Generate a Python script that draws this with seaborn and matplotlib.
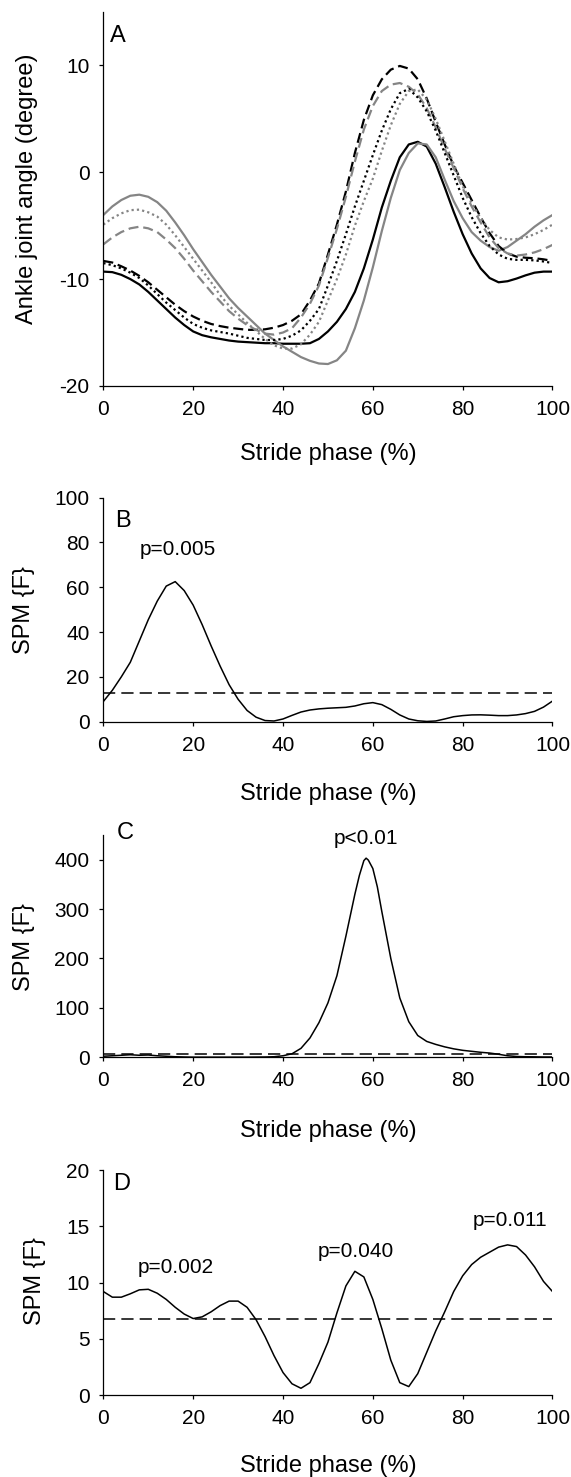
import matplotlib
matplotlib.use("Agg")
import matplotlib.pyplot as plt
import seaborn as sns
import pandas as pd

sns.set_style("ticks")
plt.rcParams['font.family'] = ['Liberation Sans', 'DejaVu Sans']
plt.rcParams['axes.unicode_minus'] = False
plt.rcParams['text.color'] = 'black'
plt.rcParams['axes.labelcolor'] = 'black'
plt.rcParams['xtick.color'] = 'black'
plt.rcParams['ytick.color'] = 'black'

# ---------------- data ----------------
phase = list(range(0, 101, 2))

# Panel A: ankle joint angle (degree)
black_solid = [-9.3, -9.35, -9.6, -10.0, -10.5, -11.2, -12.0, -12.8, -13.6, -14.3, -14.9,
               -15.25, -15.45, -15.6, -15.75, -15.85, -15.9, -15.95, -16.0, -16.0, -16.05,
               -16.05, -16.05, -16.0, -15.6, -14.9, -14.0, -12.8, -11.2, -9.0, -6.3,
               -3.3, -0.8, 1.4, 2.6, 2.85, 2.4, 0.8, -1.4, -3.7, -5.8,
               -7.6, -9.0, -9.9, -10.3, -10.2, -9.95, -9.65, -9.4, -9.3, -9.3]
gray_solid = [-4.0, -3.2, -2.6, -2.2, -2.1, -2.3, -2.8, -3.6, -4.7, -5.9, -7.2,
              -8.4, -9.6, -10.7, -11.8, -12.7, -13.5, -14.3, -15.1, -15.7, -16.3,
              -16.8, -17.3, -17.65, -17.9, -17.95, -17.6, -16.7, -14.6, -12.0, -8.9,
              -5.5, -2.4, 0.2, 1.8, 2.7, 2.6, 1.4, -0.7, -2.7, -4.3,
              -5.6, -6.4, -7.0, -7.35, -7.0, -6.4, -5.8, -5.1, -4.5, -4.0]
black_dashed = [-8.3, -8.45, -8.8, -9.2, -9.7, -10.3, -11.0, -11.7, -12.4, -13.0, -13.5,
                -13.9, -14.2, -14.4, -14.55, -14.65, -14.75, -14.75, -14.7, -14.55, -14.3,
                -13.9, -13.3, -12.0, -10.4, -7.7, -4.9, -1.8, 1.8, 4.9, 7.2,
                8.7, 9.6, 9.95, 9.7, 8.7, 6.9, 4.7, 2.6, 0.6, -1.0,
                -2.6, -4.2, -5.7, -6.9, -7.6, -7.9, -8.0, -8.05, -8.15, -8.3]
gray_dashed = [-6.75, -6.1, -5.6, -5.25, -5.1, -5.25, -5.6, -6.3, -7.1, -8.1, -9.2,
               -10.2, -11.2, -12.1, -13.0, -13.7, -14.3, -14.75, -15.1, -15.2, -15.0,
               -14.6, -13.6, -12.3, -10.6, -8.0, -5.3, -2.3, 1.0, 4.0, 6.2,
               7.6, 8.2, 8.35, 8.0, 7.3, 6.0, 4.2, 2.2, 0.4, -1.5,
               -3.2, -4.7, -6.1, -7.1, -7.6, -7.8, -7.7, -7.5, -7.2, -6.8]
black_dotted = [-8.5, -8.7, -9.0, -9.4, -9.9, -10.6, -11.4, -12.2, -12.9, -13.6, -14.2,
                -14.55, -14.8, -14.95, -15.1, -15.3, -15.5, -15.6, -15.7, -15.7, -15.6,
                -15.3, -14.8, -13.9, -12.8, -10.6, -8.3, -5.8, -3.2, -0.8, 1.6,
                3.9, 5.9, 7.4, 7.8, 7.0, 5.7, 3.9, 1.8, -0.3, -2.4,
                -4.2, -5.7, -6.9, -7.7, -8.1, -8.2, -8.2, -8.25, -8.35, -8.5]
gray_dotted = [-4.9, -4.3, -3.85, -3.55, -3.5, -3.75, -4.15, -4.9, -5.9, -7.0, -8.1,
               -9.2, -10.3, -11.5, -12.5, -13.3, -14.1, -14.85, -15.6, -16.2, -16.5,
               -16.5, -16.1, -15.2, -14.0, -12.0, -10.0, -7.7, -5.0, -2.7, -0.6,
               2.0, 4.4, 6.4, 7.6, 7.75, 6.8, 5.0, 2.9, 0.8, -1.3,
               -2.9, -4.3, -5.4, -6.1, -6.3, -6.25, -6.1, -5.8, -5.4, -4.9]

# Panel B: SPM{F}
spm_b = [9.0, 14.0, 20.0, 26.5, 36.0, 45.5, 53.8, 60.5, 62.5, 58.5, 52.0,
         43.3, 33.8, 24.8, 16.5, 10.0, 5.0, 2.0, 0.5, 0.3, 1.2,
         2.8, 4.3, 5.2, 5.7, 6.0, 6.2, 6.4, 7.0, 8.0, 8.5,
         7.6, 5.5, 3.0, 1.2, 0.4, 0.1, 0.3, 1.2, 2.2, 2.7,
         3.0, 3.05, 2.9, 2.7, 2.7, 3.0, 3.6, 4.6, 6.5, 9.2]
thresh_b = 13.0

# Panel C: SPM{F}
phase_c = [0, 2, 4, 6, 8, 10, 12, 14, 16, 18, 20, 24, 28, 32, 36, 38, 40, 42, 44, 46, 48,
           50, 52, 54, 56, 57, 58, 58.5, 59, 60, 61, 62, 64, 66, 68, 70, 72, 74, 76, 78,
           80, 82, 84, 86, 88, 90, 92, 94, 96, 98, 100]
spm_c = [2, 3, 4, 5, 4, 4.5, 3, 2, 1, 0.5, 0.2, 0.2, 0.2, 0.2, 0.5, 1, 3, 7, 18, 39, 70,
         110, 165, 245, 330, 368, 398, 403, 399, 382, 345, 295, 200, 120, 72, 44, 32, 26, 21, 17,
         14, 12, 10, 8.5, 6, 3, 1.5, 1, 0.8, 0.5, 0.5]
thresh_c = 6.7

# Panel D: SPM{F}
spm_d = [9.2, 8.7, 8.7, 9.0, 9.35, 9.4, 9.05, 8.5, 7.8, 7.2, 6.8,
         6.95, 7.4, 7.95, 8.35, 8.35, 7.8, 6.7, 5.2, 3.5, 2.0,
         1.0, 0.6, 1.1, 2.8, 4.7, 7.3, 9.7, 11.0, 10.5, 8.5,
         5.9, 3.1, 1.1, 0.75, 1.9, 3.8, 5.7, 7.4, 9.2, 10.6,
         11.6, 12.25, 12.7, 13.15, 13.35, 13.2, 12.45, 11.4, 10.1, 9.2]
thresh_d = 6.75

xticks = [0, 20, 40, 60, 80, 100]
xlabel = "Stride phase (%)"

# ---------------- figure ----------------
fig = plt.figure(figsize=(5.71, 14.77), dpi=100)
L, W = 0.181, 0.7866
axA = fig.add_axes([L, 0.7387, W, 0.2532])
axB = fig.add_axes([L, 0.5114, W, 0.1517])
axC = fig.add_axes([L, 0.2842, W, 0.1505])
axD = fig.add_axes([L, 0.0555, W, 0.1523])

GRAY = "#858585"
LW = 1.6
dash = (0, (4.5, 2.2))
dot = (0, (1, 1.4))

series_a = [
    (black_solid, "black", "-"),
    (gray_solid, GRAY, "-"),
    (black_dashed, "black", dash),
    (gray_dashed, GRAY, dash),
    (black_dotted, "black", dot),
    (gray_dotted, GRAY, dot),
]
for vals, col, ls in series_a:
    sns.lineplot(x=phase, y=vals, ax=axA, color=col, linestyle=ls, linewidth=LW,
                 estimator=None, sort=False)

sns.lineplot(x=phase, y=spm_b, ax=axB, color="black", linewidth=1.1, estimator=None, sort=False)
axB.axhline(thresh_b, color="black", linewidth=1.1, linestyle=(0, (8, 4)))

sns.lineplot(x=phase_c, y=spm_c, ax=axC, color="black", linewidth=1.1, estimator=None, sort=False)
axC.axhline(thresh_c, color="black", linewidth=1.1, linestyle=(0, (8, 4)))

sns.lineplot(x=phase, y=spm_d, ax=axD, color="black", linewidth=1.1, estimator=None, sort=False)
axD.axhline(thresh_d, color="black", linewidth=1.1, linestyle=(0, (8, 4)))

# axes formatting
cfg = [
    (axA, (-20, 15), [-20, -10, 0, 10], "Ankle joint angle (degree)", "A", (-0.145, 0.527), -0.152, (0.015, 0.965)),
    (axB, (0, 100), [0, 20, 40, 60, 80, 100], "SPM {F}", "B", (-0.153, 0.5), -0.274, (0.027, 0.945)),
    (axC, (0, 450), [0, 100, 200, 300, 400], "SPM {F}", "C", (-0.153, 0.494), -0.282, (0.029, 1.06)),
    (axD, (0, 20), [0, 5, 10, 15, 20], "SPM {F}", "D", (-0.1285, 0.507), -0.267, (0.022, 0.987)),
]
for ax, ylim, yt, ylab, letter, ylc, xly, lpos in cfg:
    ax.set_xlim(0, 100)
    ax.set_ylim(*ylim)
    ax.set_xticks(xticks)
    ax.set_yticks(yt)
    ax.set_xlabel(xlabel, fontsize=17, color="black")
    ax.set_ylabel(ylab, fontsize=17, color="black")
    ax.yaxis.set_label_coords(*ylc)
    ax.xaxis.set_label_coords(0.5, xly)
    for s in ["top", "right"]:
        ax.spines[s].set_visible(False)
    for s in ["left", "bottom"]:
        ax.spines[s].set_color("black")
        ax.spines[s].set_linewidth(0.9)
    ax.tick_params(axis="both", direction="out", length=3.0, width=0.9,
                   colors="black", labelcolor="black", labelsize=15, pad=7)
    ax.text(lpos[0], lpos[1], letter, transform=ax.transAxes, fontsize=17,
            ha="left", va="top", clip_on=False, color="black")

axB.text(16.6, 76.7, "p=0.005", fontsize=15, ha="center", va="center", color="black")
axC.text(58.5, 443, "p<0.01", fontsize=15, ha="center", va="center", clip_on=False, color="black")
axD.text(16.2, 11.33, "p=0.002", fontsize=15, ha="center", va="center", color="black")
axD.text(56.1, 12.8, "p=0.040", fontsize=15, ha="center", va="center", color="black")
axD.text(90.6, 15.5, "p=0.011", fontsize=15, ha="center", va="center", color="black")

fig.savefig("out.png", dpi=100)
